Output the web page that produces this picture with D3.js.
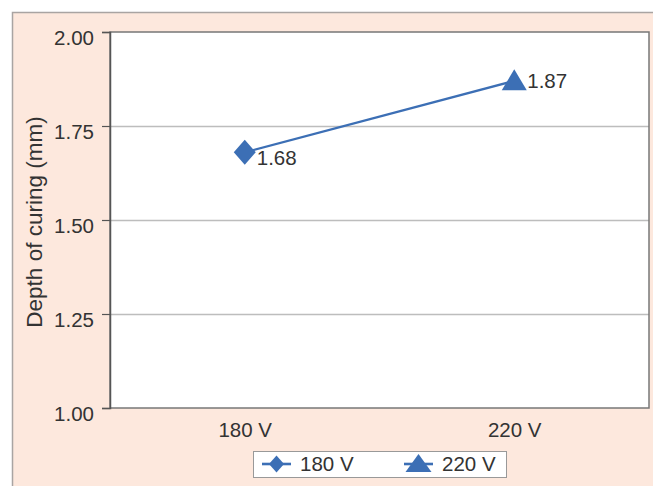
<!DOCTYPE html>
<html>
<head>
<meta charset="utf-8">
<script src="https://cdn.jsdelivr.net/npm/d3@7/dist/d3.min.js"></script>
<style>
  html, body { margin: 0; padding: 0; background: #ffffff; }
  svg { display: block; }
  text { font-family: "Liberation Sans", Arial, sans-serif; fill: #333333; }
</style>
</head>
<body>
<svg id="chart" width="653" height="486"></svg>
<script>
// Depth of curing at two supply voltages
const categories = ["180 V", "220 V"];
const depthValues = [1.68, 1.87];
const seriesNames = ["180 V", "220 V"];
const yTickValues = [1.00, 1.25, 1.50, 1.75, 2.00];
const yTitle = "Depth of curing (mm)";

const W = 653, H = 486;
const plot = { left: 110, right: 649, top: 32, bottom: 408 };
const blue = "#3c6fb5";

const svg = d3.select("#chart");

// peach chart background with a grey frame on the top and left edges
svg.append("rect")
  .attr("x", 12.5).attr("y", 12.5)
  .attr("width", W + 20).attr("height", H + 20)
  .attr("fill", "#fde8dd")
  .attr("stroke", "#a9a4a2").attr("stroke-width", 1.5);

const x = d3.scalePoint().domain(categories).range([plot.left, plot.right]).padding(0.5);
const y = d3.scaleLinear().domain([1, 2]).range([plot.bottom, plot.top]);

// white plotting area
svg.append("rect")
  .attr("x", plot.left).attr("y", plot.top)
  .attr("width", plot.right - plot.left).attr("height", plot.bottom - plot.top)
  .attr("fill", "#ffffff");

// horizontal gridlines
svg.append("g")
  .selectAll("line")
  .data(yTickValues.filter(v => v > 1 && v < 2))
  .join("line")
  .attr("x1", plot.left).attr("x2", plot.right)
  .attr("y1", d => Math.round(y(d)) + 0.5).attr("y2", d => Math.round(y(d)) + 0.5)
  .attr("stroke", "#bdbdbd").attr("stroke-width", 1.5);

// plot border
svg.append("rect")
  .attr("x", plot.left).attr("y", plot.top)
  .attr("width", plot.right - plot.left).attr("height", plot.bottom - plot.top)
  .attr("fill", "none")
  .attr("stroke", "#777777").attr("stroke-width", 1.5);

// y axis
const yAxis = svg.append("g")
  .attr("transform", `translate(${plot.left},0)`)
  .call(d3.axisLeft(y).tickValues(yTickValues).tickFormat(d3.format(".2f")).tickSize(8).tickPadding(8));
yAxis.select(".domain").attr("stroke", "#555555").attr("stroke-width", 1.5);
yAxis.selectAll(".tick line").attr("stroke", "#555555").attr("stroke-width", 1.2);
yAxis.selectAll(".tick text")
  .attr("font-size", 20.5).attr("fill", "#333333")
  .attr("font-family", "Liberation Sans, Arial, sans-serif")
  .attr("dy", "0.62em");

// x axis labels (no tick marks)
const xAxis = svg.append("g")
  .attr("transform", `translate(0,${plot.bottom})`)
  .call(d3.axisBottom(x).tickSize(0).tickPadding(14));
xAxis.select(".domain").remove();
xAxis.selectAll(".tick text")
  .attr("font-size", 20.5).attr("fill", "#333333")
  .attr("font-family", "Liberation Sans, Arial, sans-serif");

// y axis title
svg.append("text")
  .attr("transform", "translate(42,222) rotate(-90)")
  .attr("text-anchor", "middle")
  .attr("font-size", 22.5)
  .text(yTitle);

// connecting line
const pts = categories.map((c, i) => ({ c, v: depthValues[i] }));
svg.append("path")
  .datum(pts)
  .attr("fill", "none")
  .attr("stroke", blue).attr("stroke-width", 2.2)
  .attr("d", d3.line().x(d => x(d.c)).y(d => y(d.v)));

// marker shapes
const diamond = (w, h) => `M0,${-h / 2}L${w / 2},0L0,${h / 2}L${-w / 2},0Z`;
const triangle = (w, h) => `M0,${-h * 0.55}L${w / 2},${h * 0.45}L${-w / 2},${h * 0.45}Z`;
const markerPath = [() => diamond(22, 25), () => triangle(25, 21)];

svg.append("g")
  .selectAll("path")
  .data(pts)
  .join("path")
  .attr("transform", d => `translate(${x(d.c)},${y(d.v)})`)
  .attr("d", (d, i) => markerPath[i]())
  .attr("fill", blue);

// value labels
const labelShift = [[12, 13], [13, 7]];
svg.append("g")
  .selectAll("text")
  .data(pts)
  .join("text")
  .attr("x", (d, i) => x(d.c) + labelShift[i][0])
  .attr("y", (d, i) => y(d.v) + labelShift[i][1])
  .attr("font-size", 20.5)
  .text(d => d3.format(".2f")(d.v));

// legend
const legend = svg.append("g");
legend.append("rect")
  .attr("x", 253.5).attr("y", 451.5).attr("width", 253).attr("height", 26)
  .attr("fill", "#ffffff").attr("stroke", "#999999").attr("stroke-width", 1);
const legendItems = [
  { name: seriesNames[0], lx: 262, shape: diamond(15, 17) },
  { name: seriesNames[1], lx: 404, shape: triangle(26, 18) }
];
const li = legend.selectAll("g.item").data(legendItems).join("g").attr("class", "item");
li.append("line")
  .attr("x1", d => d.lx).attr("x2", d => d.lx + 29)
  .attr("y1", 464).attr("y2", 464)
  .attr("stroke", blue).attr("stroke-width", 2.6);
li.append("path")
  .attr("transform", d => `translate(${d.lx + 14.5},464)`)
  .attr("d", d => d.shape)
  .attr("fill", blue);
li.append("text")
  .attr("x", d => d.lx + 38).attr("y", 471)
  .attr("font-size", 20.5)
  .text(d => d.name);
</script>
</body>
</html>
